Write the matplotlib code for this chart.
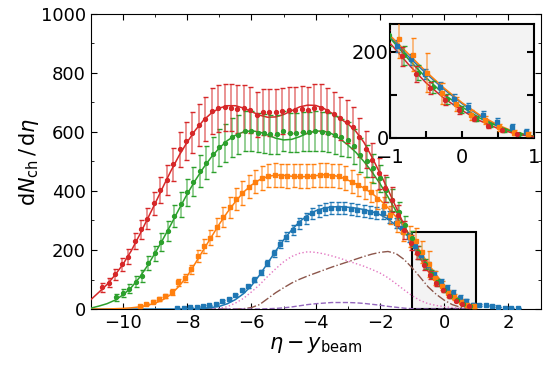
import numpy as np
import matplotlib
matplotlib.use('Agg')
import matplotlib.pyplot as plt
from matplotlib.patches import Rectangle
from matplotlib.ticker import MultipleLocator

# measured points (eta - y_beam), dN/deta and errors
eta_red = [-10.64, -10.44, -10.24, -10.04, -9.84, -9.64, -9.44, -9.24, -9.04, -8.84,
           -8.64, -8.44, -8.24, -8.04, -7.84, -7.64, -7.44, -7.24, -7.04, -6.84,
           -6.64, -6.44, -6.24, -6.04, -5.84, -5.64, -5.44, -5.24, -5.04, -4.84,
           -4.64, -4.44, -4.24, -4.04, -3.84, -3.64, -3.44, -3.24, -3.04, -2.84,
           -2.64, -2.44, -2.24, -2.04, -1.84, -1.64, -1.44, -1.24, -1.04, -0.84,
           -0.64, -0.44, -0.24, -0.04, 0.16, 0.36, 0.56, 0.76]
y_red = [73, 89, 118, 151, 177, 230, 270, 306, 358, 403,
         437, 490, 541, 569, 598, 623, 643, 672, 680, 683,
         682, 678, 680, 675, 659, 667, 666, 667, 672, 675,
         675, 677, 675, 682, 682, 672, 661, 646, 635, 616,
         582, 541, 505, 460, 409, 370, 318, 268, 225, 190,
         149, 115, 88, 64, 45, 28, 18, 10]
err_red = [14, 16, 18, 22, 25, 28, 32, 36, 40, 45,
           50, 55, 60, 64, 68, 72, 75, 78, 80, 80,
           80, 80, 80, 78, 76, 78, 78, 78, 78, 78,
           78, 78, 78, 80, 80, 78, 76, 74, 72, 70,
           66, 62, 58, 52, 46, 42, 36, 30, 26, 22,
           18, 14, 11, 8, 6, 4, 3, 2]

eta_green = [-10.21, -10.01, -9.81, -9.61, -9.41, -9.21, -9.01, -8.81, -8.61, -8.41,
             -8.21, -8.01, -7.81, -7.61, -7.41, -7.21, -7.01, -6.81, -6.61, -6.41,
             -6.21, -6.01, -5.81, -5.61, -5.41, -5.21, -5.01, -4.81, -4.61, -4.41,
             -4.21, -4.01, -3.81, -3.61, -3.41, -3.21, -3.01, -2.81, -2.61, -2.41,
             -2.21, -2.01, -1.81, -1.61, -1.41, -1.21, -1.01, -0.81, -0.61, -0.41,
             -0.21, -0.01, 0.19, 0.39, 0.59, 0.79]
y_green = [40, 55, 69, 93, 113, 155, 189, 227, 265, 315,
           355, 396, 432, 469, 496, 524, 548, 562, 582, 590,
           603, 603, 598, 595, 593, 593, 604, 598, 598, 601,
           601, 604, 601, 598, 590, 582, 574, 551, 522, 503,
           477, 443, 404, 370, 328, 285, 240, 192, 152, 118,
           90, 66, 45, 30, 18, 10]
err_green = [12, 14, 16, 18, 20, 24, 26, 30, 34, 38,
             42, 46, 50, 54, 56, 60, 62, 64, 66, 66,
             68, 68, 66, 66, 66, 66, 68, 66, 66, 66,
             66, 68, 66, 66, 64, 62, 60, 58, 56, 54,
             50, 46, 42, 38, 34, 30, 26, 22, 18, 14,
             11, 8, 6, 4, 3, 2]

eta_orange = [-9.48, -9.28, -9.08, -8.88, -8.68, -8.48, -8.28, -8.08, -7.88, -7.68,
              -7.48, -7.28, -7.08, -6.88, -6.68, -6.48, -6.28, -6.08, -5.88, -5.68,
              -5.48, -5.28, -5.08, -4.88, -4.68, -4.48, -4.28, -4.08, -3.88, -3.68,
              -3.48, -3.28, -3.08, -2.88, -2.68, -2.48, -2.28, -2.08, -1.88, -1.68,
              -1.48, -1.28, -1.08, -0.88, -0.68, -0.48, -0.28, -0.08, 0.12, 0.32,
              0.52, 0.72, 0.92]
y_orange = [11, 17, 25, 33, 44, 59, 90, 104, 134, 180,
            213, 242, 279, 313, 345, 372, 394, 415, 432, 445,
            452, 454, 452, 450, 452, 450, 450, 452, 454, 455,
            452, 450, 443, 432, 420, 410, 395, 372, 348, 318,
            290, 262, 245, 230, 193, 152, 104, 79, 53, 42,
            25, 12, 9]
err_orange = [4, 5, 6, 7, 8, 10, 12, 14, 16, 20,
              24, 26, 30, 34, 36, 38, 40, 40, 40, 40,
              40, 40, 40, 40, 40, 40, 40, 40, 40, 40,
              40, 40, 40, 40, 38, 36, 34, 32, 30, 30,
              30, 30, 35, 45, 38, 45, 24, 16, 12, 10,
              8, 6, 5]

eta_blue = [-8.31, -8.11, -7.91, -7.71, -7.51, -7.31, -7.11, -6.91, -6.71, -6.51,
            -6.31, -6.11, -5.91, -5.71, -5.51, -5.31, -5.11, -4.91, -4.71, -4.51,
            -4.31, -4.11, -3.91, -3.71, -3.51, -3.31, -3.11, -2.91, -2.71, -2.51,
            -2.31, -2.11, -1.91, -1.71, -1.51, -1.31, -1.11, -0.91, -0.71, -0.51,
            -0.31, -0.11, 0.09, 0.29, 0.49, 0.69, 0.89, 1.09, 1.29, 1.49,
            1.69, 1.89, 2.09, 2.29]
y_blue = [2, 3, 6, 8, 10, 12, 18, 27, 33, 47,
          63, 77, 100, 124, 157, 189, 220, 245, 268, 290,
          307, 324, 332, 338, 341, 341, 341, 338, 336, 333,
          330, 326, 324, 313, 292, 273, 243, 213, 183, 149,
          118, 90, 71, 53, 38, 26, 15, 14, 12, 10,
          7, 5, 4, 3]
err_blue = [1, 1, 1, 1, 2, 2, 2, 3, 3, 4,
            5, 6, 7, 8, 10, 12, 14, 15, 16, 18,
            19, 20, 20, 20, 20, 20, 20, 20, 20, 20,
            20, 20, 20, 20, 18, 17, 15, 14, 13, 12,
            11, 11, 11, 10, 8, 7, 6, 3, 2, 2,
            1, 1, 1, 1]

# fitted curves
fit_eta = [-11.0, -10.75, -10.5, -10.25, -10.0, -9.75, -9.5, -9.25, -9.0, -8.75,
           -8.5, -8.25, -8.0, -7.75, -7.5, -7.25, -7.0, -6.75, -6.5, -6.25,
           -6.0, -5.75, -5.5, -5.25, -5.0, -4.75, -4.5, -4.25, -4.0, -3.75,
           -3.5, -3.25, -3.0, -2.75, -2.5, -2.25, -2.0, -1.75, -1.5, -1.25,
           -1.0, -0.75, -0.5, -0.25, 0.0, 0.25, 0.5, 0.75, 1.0]
fit_red = [32, 57, 83, 115, 152, 196, 248, 303, 358, 415,
           470, 521, 566, 606, 639, 664, 681, 689, 689, 681,
           669, 657, 650, 651, 659, 672, 685, 691, 690, 680,
           664, 646, 628, 602, 565, 515, 460, 405, 345, 285,
           220, 172, 128, 92, 64, 40, 22, 9, 3]
fit_green = [3, 10, 18, 30, 48, 72, 105, 145, 190, 238,
             288, 340, 390, 436, 478, 515, 546, 571, 589, 600,
             604, 600, 590, 579, 573, 575, 584, 596, 603, 603,
             594, 577, 556, 531, 500, 465, 425, 380, 332, 283,
             232, 184, 140, 101, 72, 46, 27, 12, 4]
fit_orange = [0, 0, 0, 1, 2, 4, 7, 12, 20, 32,
              50, 78, 112, 155, 200, 244, 288, 328, 364, 396,
              420, 438, 449, 454, 453, 450, 448, 449, 452, 455,
              454, 448, 437, 424, 410, 392, 370, 343, 312, 280,
              238, 196, 154, 116, 82, 53, 30, 13, 4]
fit_blue = [0, 0, 0, 0, 0, 0, 0, 0, 0, 0,
            0, 0, 1, 1, 2, 5, 9, 18, 32, 52,
            79, 115, 155, 196, 234, 268, 296, 318, 333, 342,
            346, 347, 345, 342, 337, 330, 320, 305, 284, 258,
            236, 190, 150, 113, 80, 51, 28, 11, 3]

# model components
comp_eta = [-7.5, -7.25, -7.0, -6.75, -6.5, -6.25, -6.0, -5.75, -5.5, -5.25,
            -5.0, -4.75, -4.5, -4.25, -4.0, -3.75, -3.5, -3.25, -3.0, -2.75,
            -2.5, -2.25, -2.0, -1.75, -1.5, -1.25, -1.0, -0.75, -0.5, -0.25,
            0.0, 0.25, 0.5, 0.75, 1.0]
comp_pink = [0, 0, 2, 8, 20, 36, 58, 82, 110, 136,
             160, 178, 189, 194, 192, 187, 180, 172, 163, 154,
             145, 134, 122, 106, 86, 65, 45, 29, 18, 12,
             8, 5, 2, 1, 0]
comp_brown = [0, 0, 0, 0, 0, 1, 5, 15, 35, 55,
              72, 88, 101, 112, 122, 132, 142, 151, 160, 169,
              178, 186, 192, 195, 188, 168, 140, 108, 75, 50,
              30, 15, 6, 2, 0]
comp_purple = [0, 0, 0, 0, 0, 0, 0, 0, 1, 2,
               4, 7, 11, 15, 18, 20, 22, 22, 22, 21,
               19, 16, 13, 9, 6, 3, 1, 0, 0, 0,
               0, 0, 0, 0, 0]

series = [
    (eta_blue, y_blue, err_blue, fit_blue, 'C0', 's'),
    (eta_orange, y_orange, err_orange, fit_orange, 'C1', 's'),
    (eta_green, y_green, err_green, fit_green, 'C2', 'o'),
    (eta_red, y_red, err_red, fit_red, 'C3', 'o'),
]


def draw_series(ax):
    for eta, y, err, fy, color, marker in series:
        ax.plot(fit_eta, fy, color=color, lw=1.1, zorder=3)
        eb = ax.errorbar(eta, y, yerr=err, fmt=marker, color=color, ms=2.8,
                         capsize=1.8, elinewidth=1.4, capthick=1, zorder=4)
        eb[2][0].set_alpha(0.5)


fig = plt.figure(figsize=(5.51, 3.67), dpi=100)
ax = fig.add_axes([0.165, 0.158, 0.816, 0.804])

ax.plot(comp_eta, comp_pink, color='C6', lw=1, ls=':', zorder=2)
ax.plot(comp_eta, comp_brown, color='C5', lw=1, ls='-.', zorder=2)
ax.plot(comp_eta, comp_purple, color='C4', lw=1, ls='--', zorder=2)
ax.add_patch(Rectangle((-1, 0), 2, 260, facecolor='#f3f3f3', edgecolor='black',
                       lw=1.5, zorder=1.5))
draw_series(ax)

ax.set_xlim(-11, 3)
ax.set_ylim(0, 1000)
ax.xaxis.set_major_locator(MultipleLocator(2))
ax.xaxis.set_minor_locator(MultipleLocator(1))
ax.yaxis.set_major_locator(MultipleLocator(200))
ax.yaxis.set_minor_locator(MultipleLocator(100))
ax.tick_params(which='both', direction='in', top=True, right=True, labelsize=13)
ax.tick_params(which='major', length=4)
ax.tick_params(which='minor', length=2.5)
ax.set_xlabel(r'$\eta - y_{\rm beam}$', fontsize=15, labelpad=2)
ax.set_ylabel(r'$\mathrm{d}N_{\rm ch}\,/\,\mathrm{d}\eta$', fontsize=15, labelpad=0)

# zoomed inset
axin = fig.add_axes([0.708, 0.624, 0.261, 0.311])
axin.set_facecolor('#f3f3f3')
draw_series(axin)
axin.set_xlim(-1, 1)
axin.set_ylim(0, 265)
axin.set_xticks([-1, 0, 1])
axin.xaxis.set_minor_locator(MultipleLocator(0.5))
axin.yaxis.set_major_locator(MultipleLocator(200))
axin.yaxis.set_minor_locator(MultipleLocator(100))
axin.tick_params(which='both', direction='in', right=True, top=False,
                 length=5, width=1.5, labelsize=14)
axin.tick_params(axis='x', pad=7)
axin.tick_params(axis='y', pad=1)
for sp in axin.spines.values():
    sp.set_linewidth(1.5)

fig.savefig('out.png', dpi=100)
